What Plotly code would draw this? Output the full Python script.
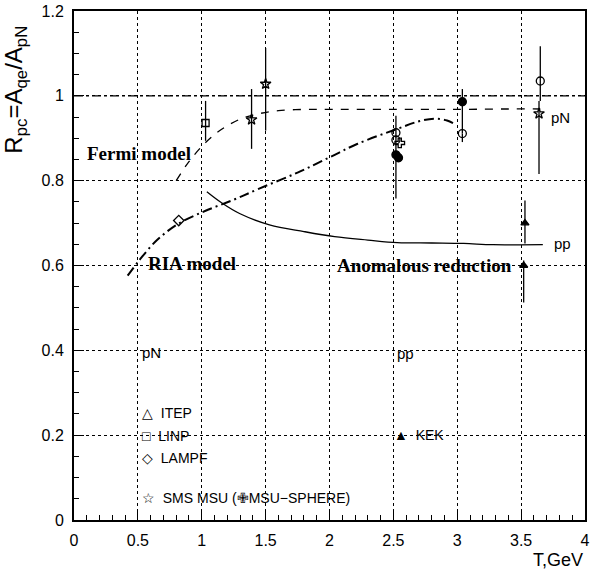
import plotly.graph_objects as go

# ---- data ----
fermi_T = [0.80, 0.90, 1.03, 1.15, 1.30, 1.45, 1.60, 1.80, 2.00, 2.50, 3.00, 3.40, 3.65]
fermi_R = [0.800, 0.845, 0.890, 0.920, 0.945, 0.958, 0.965, 0.968, 0.968, 0.968, 0.968, 0.969, 0.969]

ria_T = [0.42, 0.51, 0.65, 0.82, 1.03, 1.25, 1.44, 1.75, 2.00, 2.22, 2.53, 2.70, 2.82, 2.92, 2.99]
ria_R = [0.576, 0.612, 0.660, 0.699, 0.729, 0.755, 0.780, 0.819, 0.855, 0.887, 0.922, 0.940, 0.946, 0.942, 0.932]

anom_T = [1.04, 1.155, 1.30, 1.53, 1.80, 2.04, 2.30, 2.53, 2.80, 3.05, 3.28, 3.67]
anom_R = [0.774, 0.748, 0.722, 0.696, 0.680, 0.668, 0.660, 0.654, 0.653, 0.652, 0.649, 0.649]

linp_T = [1.03]
linp_R = [0.936]
linp_up = [0.052]
linp_dn = [0.042]

lampf_T = [0.82]
lampf_R = [0.706]

sms_T = [1.39, 1.50, 3.64]
sms_R = [0.944, 1.028, 0.958]
sms_up = [0.072, 0.085, 0.030]
sms_dn = [0.069, 0.110, 0.142]

open_T = [2.52, 2.52, 3.04, 3.65]
open_R = [0.913, 0.896, 0.911, 1.035]
open_up = [0.0, 0.0, 0.0, 0.082]
open_dn = [0.0, 0.0, 0.020, 0.047]

filled_T = [2.52, 2.54, 3.04]
filled_R = [0.861, 0.854, 0.986]
filled_up = [0.092, 0.0, 0.030]
filled_dn = [0.103, 0.0, 0.075]

sphere_T = [2.55]
sphere_R = [0.889]

kek_T = [3.53, 3.52]
kek_R = [0.700, 0.600]
kek_up = [0.053, 0.012]
kek_dn = [0.048, 0.087]

unity_T = [0.0, 4.0]
unity_R = [1.0, 1.0]

x_ticks = [0, 0.5, 1, 1.5, 2, 2.5, 3, 3.5, 4]
y_ticks = [0, 0.2, 0.4, 0.6, 0.8, 1.0, 1.2]

fig = go.Figure()

fig.add_trace(go.Scatter(x=unity_T, y=unity_R, mode="lines",
                         line=dict(color="black", width=1.3, dash="dashdot")))
fig.add_trace(go.Scatter(x=fermi_T, y=fermi_R, mode="lines", line_shape="spline",
                         line=dict(color="black", width=1.3, dash="8px,8px")))
fig.add_trace(go.Scatter(x=ria_T, y=ria_R, mode="lines", line_shape="spline",
                         line=dict(color="black", width=2, dash="10px,4px,2px,4px")))
fig.add_trace(go.Scatter(x=anom_T, y=anom_R, mode="lines", line_shape="spline",
                         line=dict(color="black", width=1.3)))


def pts(T, R, symbol, up=None, dn=None, size=9):
    err = None
    if up is not None:
        err = dict(type="data", symmetric=False, array=up, arrayminus=dn,
                   color="black", thickness=1.3, width=0)
    fig.add_trace(go.Scatter(x=T, y=R, mode="markers", error_y=err,
                             marker=dict(symbol=symbol, size=size, color="black",
                                         line=dict(color="black", width=1.3))))


pts(linp_T, linp_R, "square-open", linp_up, linp_dn, 7)
pts(lampf_T, lampf_R, "diamond-open", size=8)
pts(sms_T, sms_R, "star-open", sms_up, sms_dn, 8)
pts(open_T, open_R, "circle-open", open_up, open_dn, 8)
pts(filled_T, filled_R, "circle", filled_up, filled_dn, 8)
pts(sphere_T, sphere_R, "cross-open", size=8)
pts(kek_T, kek_R, "triangle-up", kek_up, kek_dn, 7)

serif = dict(family="Liberation Serif", size=19, color="black")
sans = dict(family="Liberation Sans", size=15, color="black")
leg = dict(family="Liberation Sans", size=14, color="black")

ann = [
    dict(x=0.085, y=0.864, text="<b>Fermi model</b>", font=serif, xanchor="left"),
    dict(x=0.56, y=0.605, text="<b>RIA model</b>", font=serif, xanchor="left"),
    dict(x=2.04, y=0.600, text="<b>Anomalous reduction</b>", font=serif, xanchor="left"),
    dict(x=3.72, y=0.950, text="pN", font=sans, xanchor="left"),
    dict(x=3.74, y=0.652, text="pp", font=sans, xanchor="left"),
    dict(x=0.52, y=0.395, text="pN", font=sans, xanchor="left"),
    dict(x=2.51, y=0.392, text="pp", font=sans, xanchor="left"),
    dict(x=0.52, y=0.252, text="\u25b3  ITEP", font=leg, xanchor="left"),
    dict(x=0.52, y=0.198, text="\u25a1  LINP", font=leg, xanchor="left"),
    dict(x=0.52, y=0.146, text="\u25c7  LAMPF", font=leg, xanchor="left"),
    dict(x=0.52, y=0.052, text="\u2606  SMS MSU (\u2719MSU\u2212SPHERE)", font=leg, xanchor="left"),
    dict(x=2.49, y=0.200, text="\u25b2  KEK", font=leg, xanchor="left"),
]
for a in ann:
    a.update(xref="x", yref="y", showarrow=False, yanchor="middle")

ann.append(dict(xref="paper", yref="paper", x=-0.114, y=0.845, showarrow=False,
                textangle=-90, xanchor="center", yanchor="middle",
                text="R<sub>pc</sub>=A<sub>qe</sub>/A<sub>pN</sub>",
                font=dict(family="Liberation Sans", size=24, color="black")))
ann.append(dict(xref="paper", yref="paper", x=1.0, y=-0.055, showarrow=False,
                xanchor="right", yanchor="top", text="T,GeV",
                font=dict(family="Liberation Sans", size=18, color="black")))

axis_common = dict(
    showline=True, linecolor="black", linewidth=2, mirror=True,
    ticks="inside", ticklen=10, tickwidth=1.3, tickcolor="black",
    showgrid=True, gridcolor="black", gridwidth=1, griddash="dot",
    zeroline=False, ticklabelstandoff=5,
    tickfont=dict(family="Liberation Sans", size=16, color="black"),
)

fig.update_layout(
    width=593, height=581,
    margin=dict(l=74, r=3, t=10, b=61),
    paper_bgcolor="white", plot_bgcolor="white",
    showlegend=False,
    annotations=ann,
    xaxis=dict(range=[0, 4], tickvals=x_ticks,
               ticktext=[f"{v:g}" for v in x_ticks],
               minor=dict(dtick=0.1, ticks="inside", ticklen=5, tickcolor="black", showgrid=False),
               **axis_common),
    yaxis=dict(range=[0, 1.2], tickvals=y_ticks,
               ticktext=[f"{v:g}" for v in y_ticks],
               minor=dict(dtick=0.05, ticks="inside", ticklen=5, tickcolor="black", showgrid=False),
               **axis_common),
)

fig.write_html("out.html")
